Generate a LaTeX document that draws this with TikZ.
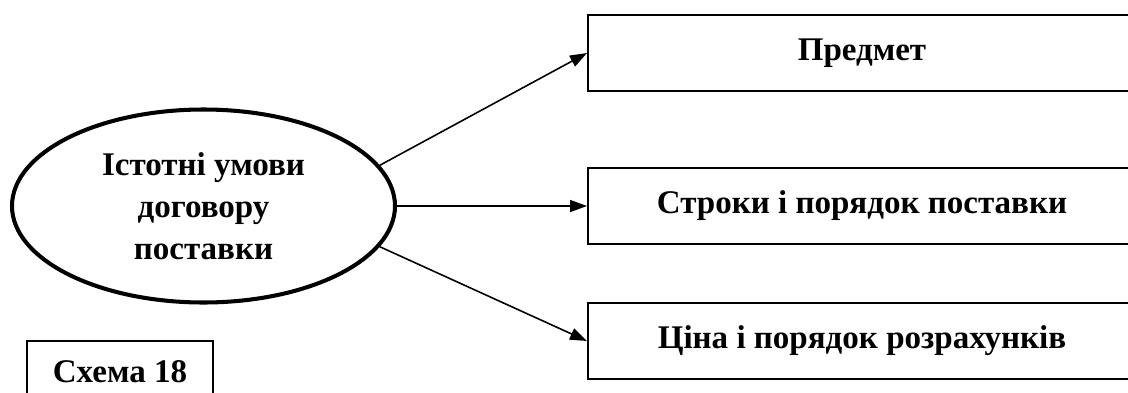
\documentclass[tikz,border=0pt]{standalone}
\usepackage{fontspec}
\setmainfont{Liberation Serif}
\usepackage{tikz}
\usetikzlibrary{arrows.meta}
\usetikzlibrary{shapes.geometric}

\begin{document}
\begin{tikzpicture}[
    txt/.style={font=\bfseries\fontsize{18.8}{23.9}\selectfont},
    termbox/.style={txt,draw,line width=1.1pt,minimum width=10.96cm,minimum height=1.53cm},
    conn/.style={line width=0.9pt,-{Triangle[length=0.34cm,width=0.24cm]}}
    ]
\useasboundingbox (0,0) rectangle (22.56,7.84);
\clip (0,0) rectangle (22.56,7.84);

\node (ell) at (4.07,3.72) [txt,ellipse,draw,line width=2.3pt,inner sep=0pt,
    minimum width=7.66cm,minimum height=3.86cm,align=center]
    {Істотні умови\\договору\\поставки};

\node (pred) at (17.24,6.78) [termbox] {Предмет};
\node (strok) at (17.24,3.72) [termbox] {Строки і порядок поставки};
\node (tsina) at (17.24,1.02) [termbox] {Ціна і порядок розрахунків};

%\draw [dotted] (0,0) rectangle (4,1);
\node (schema) at (2.4,0.4) [txt,draw,line width=1.1pt,minimum width=3.72cm,minimum height=1.24cm] {Схема 18};

\draw [conn] (ell.13) -- (pred.west);
\draw [conn] (ell.east) -- (strok.west);
\draw [conn] (ell.-13) -- (tsina.west);

\end{tikzpicture}
\end{document}
